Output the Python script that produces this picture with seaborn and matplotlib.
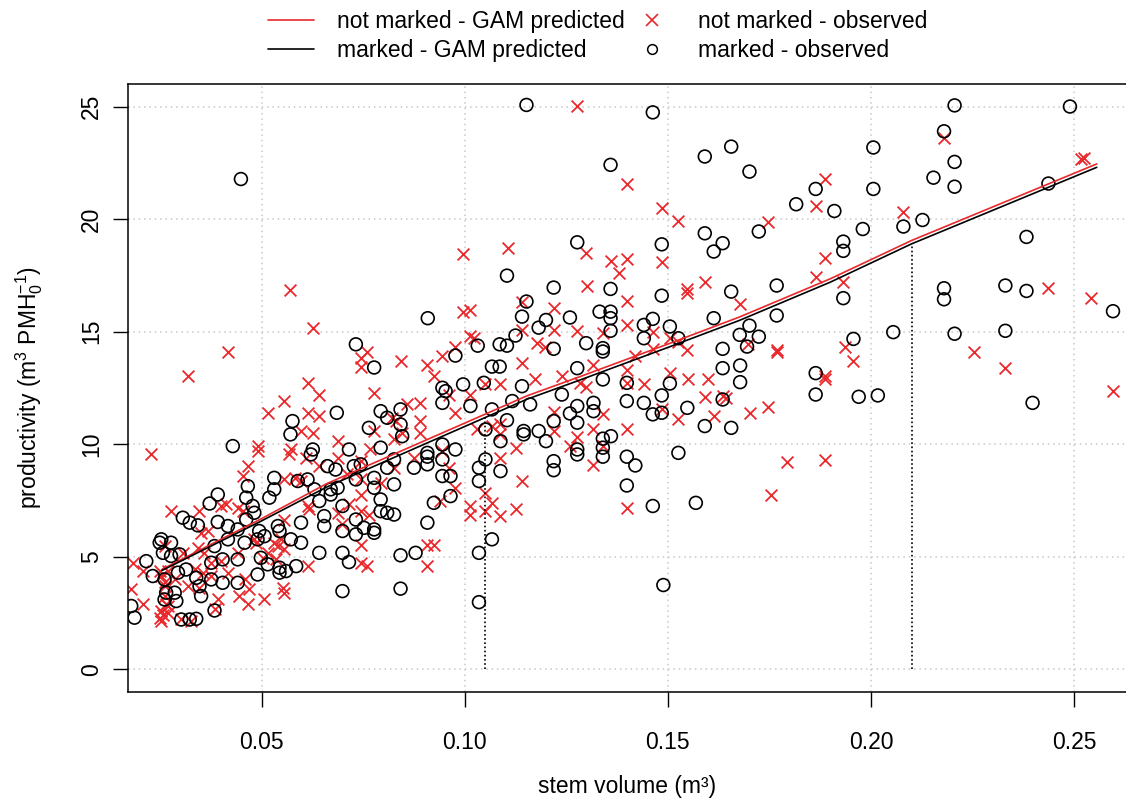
import numpy as np
import matplotlib
matplotlib.use("Agg")
import matplotlib.pyplot as plt
from matplotlib.lines import Line2D
from matplotlib.ticker import FormatStrFormatter
import seaborn as sns

# ---------------- data ----------------
# marked - observed (black circles): stem volume (m3), productivity
marked_vol = [
    0.0576, 0.0571, 0.0626, 0.0621, 0.0429, 0.0531, 0.0466, 0.0392, 0.0372, 0.0462,
    0.0478, 0.0306, 0.0323, 0.0343, 0.0392, 0.0417, 0.0441, 0.0462, 0.0482, 0.0519,
    0.0531, 0.0589, 0.0613, 0.0630, 0.0642, 0.0654, 0.0654, 0.0597, 0.0540, 0.0544,
    0.0572, 0.0597, 0.0642, 0.0253, 0.0277, 0.0249, 0.0257, 0.0277, 0.0298, 0.0216,
    0.0232, 0.0261, 0.0179, 0.0187, 0.0265, 0.0286, 0.0290, 0.0261, 0.0351, 0.0347,
    0.0302, 0.0323, 0.0339, 0.0384, 0.0404, 0.0441, 0.0490, 0.0515, 0.0544, 0.0544,
    0.0560, 0.0585, 0.0404, 0.0441, 0.0376, 0.0384, 0.0417, 0.0458, 0.0490, 0.0494,
    0.0339, 0.0314, 0.0294, 0.0376, 0.0498, 0.0507,
    0.0449,
    0.0945, 0.0953, 0.0945, 0.0996, 0.1014, 0.1047, 0.1141, 0.1117, 0.1067, 0.1104,
    0.1145, 0.1145, 0.1051, 0.1088, 0.1051, 0.1035, 0.1035, 0.1088, 0.0685, 0.0793,
    0.0809, 0.0842, 0.0842, 0.0764, 0.0846, 0.0793, 0.0715, 0.0662, 0.0682, 0.0727,
    0.0744, 0.0777, 0.0809, 0.0826, 0.0826, 0.0875, 0.0908, 0.0908, 0.0908, 0.0945,
    0.0945, 0.0977, 0.0945, 0.0965, 0.0670, 0.0670, 0.0687, 0.0699, 0.0732, 0.0777,
    0.0793, 0.0793, 0.0809, 0.0826, 0.0699, 0.0732, 0.0732, 0.0752, 0.0777, 0.0777,
    0.0924, 0.0965, 0.0908, 0.1067, 0.0699, 0.0715, 0.0842, 0.0879, 0.1035, 0.0699,
    0.0842, 0.1035,
    0.1152, 0.1104, 0.0909, 0.0732, 0.0777, 0.0977, 0.1032, 0.1086, 0.1104, 0.1125,
    0.1141, 0.1152, 0.1067, 0.1086,
    0.1340, 0.1399, 0.1399, 0.1441, 0.1463, 0.1485, 0.1485, 0.1505, 0.1548, 0.1591,
    0.1635, 0.1239, 0.1259, 0.1277, 0.1277, 0.1317, 0.1317, 0.1161, 0.1182, 0.1200,
    0.1219, 0.1219, 0.1219, 0.1277, 0.1277, 0.1340, 0.1340, 0.1340, 0.1360, 0.1399,
    0.1420, 0.1399, 0.1463, 0.1526, 0.1569, 0.1489,
    0.1463, 0.1359, 0.1591, 0.1277, 0.1485, 0.1591, 0.1635, 0.1613, 0.1219, 0.1359,
    0.1485, 0.1332, 0.1359, 0.1359, 0.1259, 0.1200, 0.1182, 0.1359, 0.1299, 0.1219,
    0.1340, 0.1340, 0.1441, 0.1441, 0.1463, 0.1505, 0.1526, 0.1613, 0.1635, 0.1635,
    0.1277,
    0.1678, 0.1656, 0.1864, 0.1970, 0.2017,
    0.1656, 0.1701, 0.2006, 0.2006, 0.1864, 0.1816, 0.1910, 0.1724, 0.1980, 0.1932,
    0.1932, 0.2080, 0.2127, 0.1656, 0.1768, 0.1932, 0.1768, 0.1701, 0.1677, 0.1724,
    0.1695, 0.1957, 0.2055, 0.1678, 0.1864,
    0.2206, 0.2490, 0.2180, 0.2206, 0.2154, 0.2206, 0.2437, 0.2383, 0.2180, 0.2180,
    0.2331, 0.2383, 0.2596, 0.2206, 0.2331, 0.2398,
]
marked_prod = [
    11.03, 10.44, 9.77, 9.55, 9.92, 8.51, 8.14, 7.77, 7.37, 7.63,
    7.26, 6.74, 6.52, 6.40, 6.55, 6.37, 6.22, 6.66, 6.96, 7.63,
    8.00, 8.37, 8.44, 8.00, 7.48, 6.81, 6.37, 6.52, 6.37, 6.15,
    5.78, 5.63, 5.18, 5.78, 5.63, 5.63, 5.18, 5.04, 5.11, 4.81,
    4.15, 4.00, 2.82, 2.30, 3.41, 3.41, 3.04, 3.11, 3.26, 3.70,
    2.22, 2.22, 2.25, 2.62, 3.85, 3.85, 4.22, 4.67, 4.52, 4.30,
    4.37, 4.59, 4.89, 4.89, 4.74, 5.48, 5.78, 5.63, 5.78, 6.15,
    4.07, 4.44, 4.30, 4.00, 4.96, 5.92,
    21.78,
    12.51, 12.36, 11.84, 12.66, 11.70, 12.73, 12.58, 11.92, 11.55, 11.07,
    10.59, 10.44, 10.66, 10.14, 9.33, 8.96, 8.37, 8.81, 11.40, 11.47,
    11.18, 11.55, 10.88, 10.73, 10.36, 9.85, 9.77, 9.03, 8.88, 9.03,
    9.11, 8.51, 8.96, 9.33, 8.22, 8.96, 9.62, 9.45, 9.11, 9.99,
    9.33, 9.77, 8.59, 8.59, 8.00, 7.77, 8.07, 7.26, 8.44, 8.07,
    7.55, 7.03, 6.96, 6.88, 6.15, 6.66, 6.00, 6.29, 6.22, 6.07,
    7.40, 7.70, 6.52, 5.78, 5.18, 4.77, 5.07, 5.18, 5.18, 3.48,
    3.59, 2.99,
    25.07, 17.49, 15.60, 14.44, 13.41, 13.94, 14.38, 14.44, 14.38, 14.83,
    15.67, 16.34, 13.45, 13.45,
    12.88, 12.73, 11.92, 11.84, 11.33, 12.17, 11.40, 12.70, 11.62, 10.81,
    11.99, 12.21, 11.37, 11.70, 10.96, 11.84, 11.47, 11.77, 10.59, 10.14,
    11.03, 9.25, 8.85, 9.77, 9.55, 10.25, 9.85, 9.45, 10.36, 9.45,
    9.06, 8.17, 7.26, 9.62, 7.40, 3.75,
    24.74, 22.41, 22.78, 18.97, 18.88, 19.37, 18.93, 18.56, 16.96, 16.90,
    16.60, 15.89, 15.89, 15.60, 15.63, 15.52, 15.18, 15.04, 14.49, 14.24,
    14.27, 14.12, 15.30, 14.71, 15.57, 15.23, 14.71, 15.60, 14.24, 13.38,
    13.38,
    12.76, 10.73, 12.21, 12.11, 12.17,
    23.22, 22.11, 23.18, 21.34, 21.34, 20.66, 20.36, 19.45, 19.56, 19.00,
    18.59, 19.67, 19.96, 16.78, 17.05, 16.49, 15.72, 15.27, 14.86, 14.78,
    14.34, 14.68, 14.98, 13.50, 13.16,
    25.05, 25.00, 23.90, 22.54, 21.84, 21.44, 21.58, 19.21, 16.93, 16.44,
    17.05, 16.81, 15.91, 14.91, 15.04, 11.84,
]

# not marked - observed (red crosses)
notmarked_vol = [
    0.0613, 0.0642, 0.0556, 0.0515, 0.0613, 0.0642, 0.0597, 0.0626, 0.0228, 0.0490,
    0.0490, 0.0572, 0.0568, 0.0609, 0.0642, 0.0466, 0.0454, 0.0556, 0.0581, 0.0597,
    0.0277, 0.0347, 0.0400, 0.0413, 0.0441, 0.0454, 0.0613, 0.0617, 0.0556, 0.0482,
    0.0486, 0.0531, 0.0548, 0.0540, 0.0556, 0.0515, 0.0351, 0.0368, 0.0343, 0.0359,
    0.0261, 0.0306, 0.0376, 0.0400, 0.0441, 0.0503, 0.0535, 0.0613, 0.0183, 0.0208,
    0.0249, 0.0269, 0.0253, 0.0286, 0.0318, 0.0347, 0.0376, 0.0417, 0.0458, 0.0445,
    0.0470, 0.0466, 0.0507, 0.0552, 0.0556, 0.0392, 0.0384, 0.0208, 0.0179, 0.0261,
    0.0261, 0.0269, 0.0269, 0.0249, 0.0253, 0.0302, 0.0327, 0.0335, 0.0355, 0.0257,
    0.0265, 0.0261, 0.0253,
    0.0571, 0.0626, 0.0417, 0.0318,
    0.0777, 0.0859, 0.0891, 0.0961, 0.1014, 0.1051, 0.1088, 0.0977, 0.0822, 0.0830,
    0.0891, 0.0777, 0.0846, 0.0891, 0.0826, 0.1031, 0.1067, 0.1088, 0.1088, 0.1125,
    0.1088, 0.1141, 0.0687, 0.0687, 0.0768, 0.0744, 0.0711, 0.0744, 0.0744, 0.0793,
    0.0826, 0.0875, 0.0945, 0.0961, 0.0977, 0.0940, 0.0687, 0.0715, 0.0744, 0.0764,
    0.0699, 0.0744, 0.0744, 0.0760, 0.0908, 0.0924, 0.0908, 0.1014, 0.1014, 0.1051,
    0.1067, 0.1051, 0.1088, 0.1125,
    0.0996, 0.1106, 0.0996, 0.1014, 0.1014, 0.1022, 0.0760, 0.0744, 0.0744, 0.0842,
    0.0908, 0.0924, 0.0945, 0.0977, 0.1141, 0.1141, 0.1141,
    0.1173, 0.1284, 0.1299, 0.1399, 0.1441, 0.1550, 0.1600, 0.1591, 0.1636, 0.1613,
    0.1526, 0.1485, 0.1219, 0.1219, 0.1340, 0.1317, 0.1277, 0.1258, 0.1340, 0.1317,
    0.1399, 0.1399,
    0.1277, 0.1400, 0.1485, 0.1526, 0.1299, 0.1359, 0.1400, 0.1380, 0.1485, 0.1302,
    0.1400, 0.1548, 0.1548, 0.1591, 0.1219, 0.1219, 0.1178, 0.1198, 0.1277, 0.1340,
    0.1400, 0.1464, 0.1464, 0.1505, 0.1526, 0.1548, 0.1419, 0.1317, 0.1400, 0.1505,
    0.1239,
    0.1644, 0.1703, 0.1746, 0.1886, 0.1793, 0.1886, 0.1755,
    0.1886, 0.1864, 0.1746, 0.2080, 0.1886, 0.1864, 0.1932, 0.1678, 0.1768, 0.1768,
    0.1935, 0.1957, 0.1697, 0.1886,
    0.2180, 0.2517, 0.2525, 0.2437, 0.2541, 0.2255, 0.2331, 0.2596,
]
notmarked_prod = [
    12.73, 12.21, 11.92, 11.40, 11.40, 11.25, 10.59, 10.51, 9.55, 9.92,
    9.70, 9.77, 9.55, 9.40, 9.03, 9.03, 8.59, 8.44, 8.51, 8.37,
    7.03, 7.03, 7.26, 7.33, 7.18, 7.03, 7.26, 7.11, 6.66, 5.78,
    5.60, 5.63, 5.78, 5.48, 5.33, 5.18, 6.07, 6.15, 5.41, 5.18,
    5.48, 5.18, 4.74, 4.81, 5.18, 4.96, 4.89, 4.59, 4.74, 4.37,
    4.37, 4.37, 4.15, 4.00, 3.70, 3.63, 4.15, 4.30, 4.00, 3.26,
    3.56, 2.89, 3.11, 3.63, 3.41, 3.11, 2.67, 2.89, 3.56, 3.70,
    3.26, 2.82, 2.52, 2.30, 2.15, 2.22, 2.15, 4.44, 4.30, 2.40,
    2.90, 3.90, 2.60,
    16.86, 15.18, 14.12, 13.05,
    12.29, 11.77, 11.84, 12.21, 12.21, 12.66, 12.66, 11.40, 11.18, 11.03,
    11.03, 10.59, 10.51, 10.51, 10.22, 10.66, 10.81, 10.88, 10.44, 9.85,
    9.40, 8.37, 10.14, 9.40, 9.77, 9.25, 8.66, 8.44, 7.77, 8.29,
    8.96, 9.40, 9.70, 8.96, 8.07, 7.48, 6.96, 7.33, 7.03, 6.88,
    6.44, 5.55, 4.74, 4.59, 5.55, 5.55, 4.59, 7.26, 6.88, 7.85,
    7.40, 7.03, 6.81, 7.11,
    18.44, 18.71, 15.89, 15.97, 14.79, 14.71, 14.09, 13.85, 13.45, 13.70,
    13.50, 13.05, 13.94, 14.30, 16.34, 15.08, 13.60,
    12.88, 12.73, 12.55, 12.70, 12.66, 12.88, 12.88, 12.11, 12.14, 11.25,
    11.13, 11.55, 11.43, 10.59, 11.33, 10.66, 10.33, 9.92, 9.92, 9.06,
    10.69, 7.18,
    25.04, 21.55, 20.51, 19.92, 18.49, 18.14, 18.23, 17.60, 18.09, 17.05,
    16.37, 16.90, 16.71, 17.20, 16.04, 15.08, 14.49, 14.30, 15.01, 14.93,
    15.30, 14.98, 14.24, 14.71, 14.56, 14.19, 13.94, 13.53, 13.30, 13.16,
    13.05,
    12.07, 11.40, 11.67, 12.88, 9.21, 9.30, 7.77,
    21.78, 20.60, 19.86, 20.30, 18.29, 17.45, 17.20, 16.22, 14.19, 14.09,
    14.30, 13.70, 14.44, 13.05,
    23.60, 22.67, 22.72, 16.93, 16.49, 14.12, 13.37, 12.37,
]

# GAM predicted curves
gam_vol = [0.0255, 0.05, 0.066, 0.09, 0.1153, 0.1283, 0.15, 0.1676, 0.19, 0.21, 0.2556]
gam_marked = [4.40, 6.60, 8.10, 10.00, 12.00, 12.85, 14.30, 15.50, 17.20, 18.90, 22.30]
gam_notmarked = [4.45, 6.70, 8.25, 10.15, 12.15, 13.00, 14.45, 15.65, 17.35, 19.05, 22.45]

# dotted reference volumes
ref_vol = [0.105, 0.21]

x_ticks = [0.05, 0.10, 0.15, 0.20, 0.25]
y_ticks = [0, 5, 10, 15, 20, 25]

legend_labels = ["not marked - GAM predicted", "marked - GAM predicted",
                 "not marked - observed", "marked - observed"]

# ---------------- styling ----------------
sns.set_style("white")
plt.rcParams["font.family"] = ["Liberation Sans", "DejaVu Sans"]
plt.rcParams["mathtext.fontset"] = "custom"
plt.rcParams["mathtext.rm"] = "Liberation Sans"
plt.rcParams["mathtext.it"] = "Liberation Sans:italic"
plt.rcParams["mathtext.bf"] = "Liberation Sans:bold"
for key in ["text.color", "axes.labelcolor", "xtick.color", "ytick.color",
            "xtick.labelcolor", "ytick.labelcolor"]:
    plt.rcParams[key] = "black"

RED = "#e8282b"
FS = 16.5

fig = plt.figure(figsize=(11.26, 8.0), dpi=100)
ax = fig.add_axes([128 / 1126, 108 / 800, 1 - 128 / 1126, 608 / 800])

sns.scatterplot(x=notmarked_vol, y=notmarked_prod, marker="x", color=RED,
                s=72, linewidth=1.3, ax=ax, zorder=2, legend=False)
sns.scatterplot(x=marked_vol, y=marked_prod, marker="o", facecolor="none",
                edgecolor="black", s=85, linewidth=1.2, ax=ax, zorder=2.1, legend=False)

sns.lineplot(x=gam_vol, y=gam_notmarked, color=RED, lw=1.2, ax=ax, zorder=3)
sns.lineplot(x=gam_vol, y=gam_marked, color="black", lw=1.2, ax=ax, zorder=3)

ref_top = np.interp(ref_vol, gam_vol, gam_marked)
ax.vlines(ref_vol, 0, ref_top, colors="black", linestyles=(0, (1, 1.5)), lw=1.2, zorder=3)

ax.set_xlim(0.0171, 0.2628)
ax.set_ylim(-1.0, 26.0)
ax.set_xticks(x_ticks)
ax.set_yticks(y_ticks)
ax.xaxis.set_major_formatter(FormatStrFormatter("%.2f"))
ax.grid(True, color="#c8c8c8", linestyle=(0, (1, 2.5)), lw=1.1)
ax.set_axisbelow(True)

for side in ["left", "top", "bottom"]:
    ax.spines[side].set_visible(True)
    ax.spines[side].set_color("black")
    ax.spines[side].set_linewidth(1.1)
ax.spines["right"].set_visible(False)

ax.tick_params(axis="both", which="major", direction="out", length=10.8, width=1.0,
               color="black", labelcolor="black", labelsize=FS, left=True, bottom=True)
ax.tick_params(axis="x", pad=17)
ax.tick_params(axis="y", pad=7, labelrotation=90)
for lab in ax.get_yticklabels():
    lab.set_va("center")

ax.set_xlabel("stem volume (m³)", fontsize=FS, color="black")
ax.xaxis.set_label_coords(0.5, -(786 - 692) / 608)
ax.xaxis.label.set_va("center")
ax.set_ylabel(r"productivity (m$^{3}$ PMH$_{0}^{-1}$)", fontsize=FS, va="center",
              color="black")
ax.yaxis.set_label_coords(-(128 - 29) / 998, 0.5)

handles = [
    Line2D([], [], color=RED, lw=1.2),
    Line2D([], [], color="black", lw=1.2),
    Line2D([], [], color=RED, marker="x", ls="none", markersize=8, mew=1.2),
    Line2D([], [], color="black", marker="o", ls="none", markersize=7,
           markerfacecolor="none", mew=1.1),
]
leg = fig.legend(handles, legend_labels, ncol=2, loc="center",
                 bbox_to_anchor=(598 / 1126, 1 - 36 / 800), frameon=False, fontsize=FS,
                 handlelength=2.0, handletextpad=1.0, columnspacing=0.2,
                 labelspacing=0.3, borderpad=0)
for t in leg.get_texts():
    t.set_color("black")

fig.savefig("out.png", dpi=100)
